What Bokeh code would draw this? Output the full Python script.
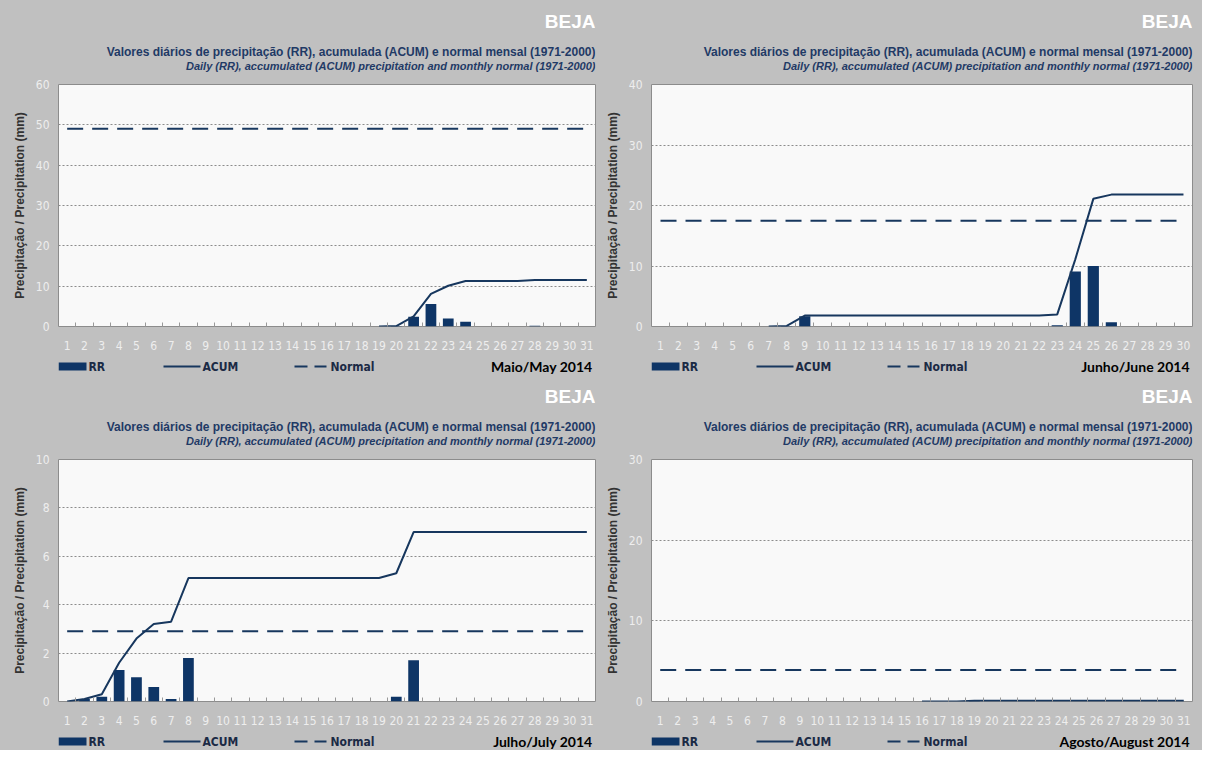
import numpy as np
from bokeh.plotting import figure
from bokeh.models import Range1d, FixedTicker, SingleIntervalTicker
from bokeh.core.properties import value
from bokeh.layouts import column, row
from bokeh.embed import file_html
from bokeh.resources import INLINE

# ---------------- texts ----------------
STATION = "BEJA"
SUB_PT = "Valores diários de precipitação (RR), acumulada (ACUM) e normal mensal (1971-2000)"
SUB_EN = "Daily (RR), accumulated (ACUM) precipitation and monthly normal (1971-2000)"
Y_LABEL = "Precipitação / Precipitation (mm)"
LEGEND_LABELS = ["RR", "ACUM", "Normal"]
MONTH_LABELS = ["Maio/May 2014", "Junho/June 2014", "Julho/July 2014", "Agosto/August 2014"]

# ---------------- data ----------------
days_31 = [1, 2, 3, 4, 5, 6, 7, 8, 9, 10, 11, 12, 13, 14, 15, 16, 17, 18, 19, 20,
           21, 22, 23, 24, 25, 26, 27, 28, 29, 30, 31]
days_30 = [1, 2, 3, 4, 5, 6, 7, 8, 9, 10, 11, 12, 13, 14, 15, 16, 17, 18, 19, 20,
           21, 22, 23, 24, 25, 26, 27, 28, 29, 30]

rr_may = [0, 0, 0, 0, 0, 0, 0, 0, 0, 0, 0, 0, 0, 0, 0, 0, 0, 0, 0, 0.1,
          2.4, 5.6, 2.0, 1.2, 0, 0, 0, 0.2, 0, 0, 0]
acum_may = [None, None, None, None, None, None, None, None, None, None,
            None, None, None, None, None, None, None, None, 0.0, 0.1,
            2.5, 8.1, 10.1, 11.3, 11.3, 11.3, 11.3, 11.5, 11.5, 11.5, 11.5]
rr_jun = [0, 0, 0, 0, 0, 0, 0, 0.1, 1.7, 0, 0, 0, 0, 0, 0, 0, 0, 0, 0, 0,
          0, 0, 0.2, 9.1, 10.0, 0.7, 0, 0, 0, 0]
acum_jun = [None, None, None, None, None, None, 0.0, 0.1, 1.8, 1.8,
            1.8, 1.8, 1.8, 1.8, 1.8, 1.8, 1.8, 1.8, 1.8, 1.8,
            1.8, 1.8, 2.0, 11.1, 21.1, 21.8, 21.8, 21.8, 21.8, 21.8]
rr_jul = [0, 0.1, 0.2, 1.3, 1.0, 0.6, 0.1, 1.8, 0, 0, 0, 0, 0, 0, 0, 0, 0, 0, 0, 0.2,
          1.7, 0, 0, 0, 0, 0, 0, 0, 0, 0, 0]
acum_jul = [0.0, 0.1, 0.3, 1.6, 2.6, 3.2, 3.3, 5.1, 5.1, 5.1,
            5.1, 5.1, 5.1, 5.1, 5.1, 5.1, 5.1, 5.1, 5.1, 5.3,
            7.0, 7.0, 7.0, 7.0, 7.0, 7.0, 7.0, 7.0, 7.0, 7.0, 7.0]
rr_aug = [0, 0, 0, 0, 0, 0, 0, 0, 0, 0, 0, 0, 0, 0, 0, 0, 0, 0, 0.1, 0,
          0, 0, 0, 0, 0, 0, 0, 0, 0, 0, 0]
acum_aug = [None, None, None, None, None, None, None, None, None, None,
            None, None, None, None, None, 0.0, 0.0, 0.0, 0.1, 0.1,
            0.1, 0.1, 0.1, 0.1, 0.1, 0.1, 0.1, 0.1, 0.1, 0.1, 0.1]

normals = [49.0, 17.5, 2.9, 3.9]          # monthly normal 1971-2000 (mm)
y_max = [60, 40, 10, 30]
y_step = [10, 10, 2, 10]

days = [days_31, days_30, days_31, days_31]
rr = [rr_may, rr_jun, rr_jul, rr_aug]
acum = [acum_may, acum_jun, acum_jul, acum_aug]

# ---------------- style ----------------
BG = "#c0c0c0"
NAVY = "#0e3566"
LINE = "#17375e"
TITLE_C = "#1f3a66"
TICK_C = "#eeeeee"
NARROW = "DejaVu Sans Condensed"
ARIAL = "Liberation Sans"
W = 601
H_HEAD, H_MAIN, H_LEG = 77, 275, 23
FRAME_H = 245


def header_fig(fl, fw):
    # frames of a column are aligned, so x_range is given in the panel's pixel units
    h = figure(width=W, height=H_HEAD, output_backend="svg", toolbar_location=None,
               x_range=Range1d(fl, fl + fw), y_range=Range1d(0, H_HEAD),
               x_axis_type=None, y_axis_type=None, min_border=0,
               background_fill_color=BG, border_fill_color=BG, outline_line_color=None)
    xr = fl + fw
    h.text(x=[xr], y=[H_HEAD - 21], text=[STATION], text_align="right", text_baseline="middle",
           text_font=value(ARIAL), text_font_size=value("19px"), text_font_style="bold",
           text_color="#ffffff")
    h.text(x=[xr], y=[H_HEAD - 51], text=[SUB_PT], text_align="right", text_baseline="middle",
           text_font=value(ARIAL), text_font_size=value("12px"), text_font_style="bold",
           text_color=TITLE_C)
    h.text(x=[xr], y=[H_HEAD - 65], text=[SUB_EN], text_align="right", text_baseline="middle",
           text_font=value(ARIAL), text_font_size=value("11px"), text_font_style="bold italic",
           text_color=TITLE_C)
    return h


def main_fig(i, fl, fw):
    d = days[i]
    n = len(d)
    p = figure(width=W, height=H_MAIN, output_backend="svg", toolbar_location=None,
               x_range=Range1d(0.5, n + 0.5), y_range=Range1d(0, y_max[i]),
               min_border_left=fl, min_border_right=W - fl - fw,
               min_border_top=H_MAIN - FRAME_H - 23, min_border_bottom=23,
               background_fill_color="#f9f9f9", border_fill_color=BG,
               outline_line_color="#8c8c8c", outline_line_width=1)

    yt = SingleIntervalTicker(interval=y_step[i], num_minor_ticks=0)
    p.yaxis.ticker = yt
    p.ygrid.ticker = yt
    p.ygrid.grid_line_color = "#8c8c8c"
    p.ygrid.grid_line_dash = "2 2"
    p.xgrid.visible = False

    p.yaxis.axis_line_color = None
    p.yaxis.major_tick_line_color = None
    p.yaxis.minor_tick_line_color = None
    p.yaxis.major_label_text_color = TICK_C
    p.yaxis.major_label_text_font = NARROW
    p.yaxis.major_label_text_font_size = "12px"
    p.yaxis.major_label_standoff = 3
    p.yaxis.axis_label = Y_LABEL
    p.yaxis.axis_label_text_font = ARIAL
    p.yaxis.axis_label_text_font_size = "12px"
    p.yaxis.axis_label_text_font_style = "bold"
    p.yaxis.axis_label_text_color = "#333333"
    p.yaxis.axis_label_standoff = 6

    p.xaxis.ticker = FixedTicker(ticks=d, minor_ticks=[x + 0.5 for x in d[:-1]])
    p.xaxis.axis_line_color = None
    p.xaxis.major_tick_line_color = None
    p.xaxis.minor_tick_in = 4
    p.xaxis.minor_tick_out = 0
    p.xaxis.minor_tick_line_color = "#999999"
    p.xaxis.major_label_text_color = TICK_C
    p.xaxis.major_label_text_font = NARROW
    p.xaxis.major_label_text_font_size = "12px"
    p.xaxis.major_label_standoff = 8

    p.vbar(x=d, top=rr[i], width=0.62, bottom=0, fill_color=NAVY, line_color=None)
    p.line(x=d, y=np.array(acum[i], dtype=float), line_color=LINE, line_width=2)
    p.line(x=[d[0], d[-1]], y=[normals[i], normals[i]], line_color=LINE,
           line_width=2, line_dash="16 9")
    return p


def legend_fig(i, fl, fw):
    g = figure(width=W, height=H_LEG, output_backend="svg", toolbar_location=None,
               x_range=Range1d(fl, fl + fw), y_range=Range1d(0, H_LEG),
               x_axis_type=None, y_axis_type=None, min_border=0,
               background_fill_color=BG, border_fill_color=BG, outline_line_color=None)
    yc = H_LEG - 14
    g.quad(left=[fl], right=[fl + 28], bottom=[yc - 4], top=[yc + 4],
           fill_color=NAVY, line_color=None)
    g.line(x=[fl + 105, fl + 142], y=[yc, yc], line_color=LINE, line_width=2)
    g.line(x=[fl + 236, fl + 268], y=[yc, yc], line_color=LINE, line_width=2, line_dash="13 7")
    g.text(x=[fl + 30, fl + 144, fl + 272], y=[yc, yc, yc], text=LEGEND_LABELS,
           text_align="left", text_baseline="middle", text_font=value(NARROW),
           text_font_size=value("12px"), text_font_style="bold", text_color="#1b2a45")
    g.text(x=[fl + fw - 3], y=[yc], text=[MONTH_LABELS[i]], text_align="right",
           text_baseline="middle", text_font=value("Lato"), text_font_size=value("14px"),
           text_font_style="bold", text_color="#000000")
    return g


def panel(i, fl, fw):
    return column(header_fig(fl, fw), main_fig(i, fl, fw), legend_fig(i, fl, fw),
                  spacing=0, styles={"background-color": BG})


layout = column(
    row(panel(0, 58, 537), panel(1, 50, 541), spacing=0, styles={"background-color": BG}),
    row(panel(2, 58, 537), panel(3, 50, 541), spacing=0, styles={"background-color": BG}),
    spacing=0, styles={"background-color": BG})
open("out.html", "w").write(file_html(layout, INLINE, "BEJA"))
